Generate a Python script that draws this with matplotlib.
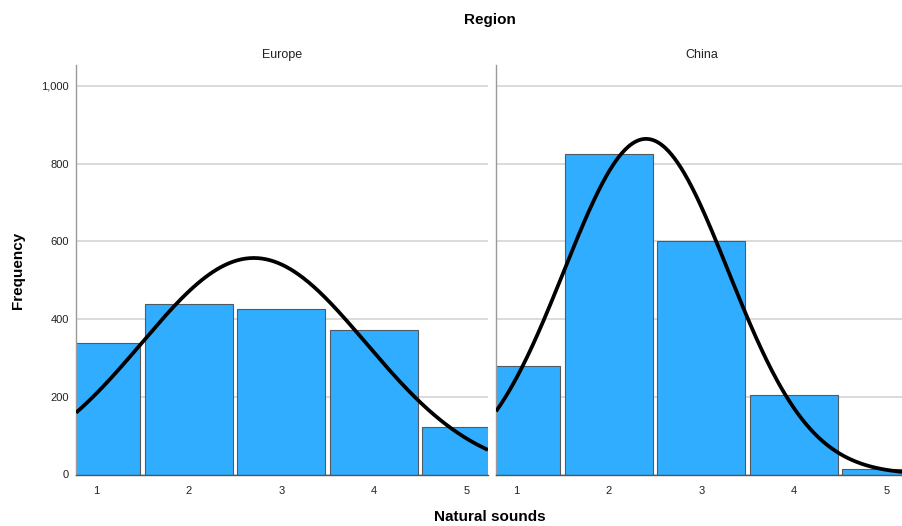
import numpy as np
import matplotlib
matplotlib.use('Agg')
import matplotlib.pyplot as plt

plt.rcParams['font.family'] = ['Liberation Sans', 'DejaVu Sans']

# response categories (bins of width 1)
categories = [1, 2, 3, 4, 5]
regions = ['Europe', 'China']
europe_counts = [339, 439, 426, 371, 121]
china_counts = [278, 826, 600, 204, 15]
panel_counts = [europe_counts, china_counts]
y_ticks = [0, 200, 400, 600, 800, 1000]
y_tick_labels = ['0', '200', '400', '600', '800', '1,000']

BAR_COLOR = '#31adff'
XLIM = (0.78, 5.235)
YLIM = (0, 1054)

fig = plt.figure(figsize=(9.03, 5.26), dpi=100)
W, H = 903, 526


def px_axes(x0, y0, x1, y1):
    return fig.add_axes([x0 / W, 1 - y1 / H, (x1 - x0) / W, (y1 - y0) / H])


axes = [px_axes(76, 65, 488, 474.5), px_axes(496, 65, 908, 474.5)]

for ax, name, counts in zip(axes, regions, panel_counts):
    x = np.array(categories, dtype=float)
    f = np.array(counts, dtype=float)
    n = f.sum()
    mean = (x * f).sum() / n
    sd = np.sqrt((f * (x - mean) ** 2).sum() / n)

    ax.set_axisbelow(True)
    ax.bar(x, f, width=0.95, color=BAR_COLOR, edgecolor='#505a64', linewidth=0.8, zorder=2)

    # normal curve scaled to the counts
    xs = np.linspace(XLIM[0], XLIM[1], 400)
    ys = n / (sd * np.sqrt(2 * np.pi)) * np.exp(-0.5 * ((xs - mean) / sd) ** 2)
    ax.plot(xs, ys, color='black', linewidth=2.7, zorder=3, solid_capstyle='butt')

    ax.set_xlim(XLIM)
    ax.set_ylim(YLIM)
    ax.set_yticks(y_ticks)
    ax.set_xticks(categories)
    ax.set_xticklabels([str(c) for c in categories])
    ax.yaxis.grid(True, color='#d4d4d4', linewidth=1.2)
    ax.tick_params(length=0, labelsize=8, labelcolor='#222222')
    ax.tick_params(axis='x', pad=8)
    ax.tick_params(axis='y', pad=5)
    for side in ('top', 'right'):
        ax.spines[side].set_visible(False)
    ax.spines['left'].set_color('#9a9a9a')
    ax.spines['left'].set_linewidth(1.0)
    ax.spines['bottom'].set_color('#555555')
    ax.spines['bottom'].set_linewidth(1.0)
    ax.set_title(name, fontsize=9, color='#222222', pad=5)

axes[0].set_yticklabels(y_tick_labels)
axes[1].set_yticklabels([])

fig.text(490 / W, 1 - 20 / H, 'Region', ha='center', va='center',
         fontsize=11, fontweight='bold')
fig.text(18 / W, 1 - 270 / H, 'Frequency', ha='center', va='center',
         rotation=90, fontsize=11, fontweight='bold')
fig.text(490 / W, 1 - 517 / H, 'Natural sounds', ha='center', va='center',
         fontsize=11, fontweight='bold')

fig.savefig('out.png', dpi=100)
